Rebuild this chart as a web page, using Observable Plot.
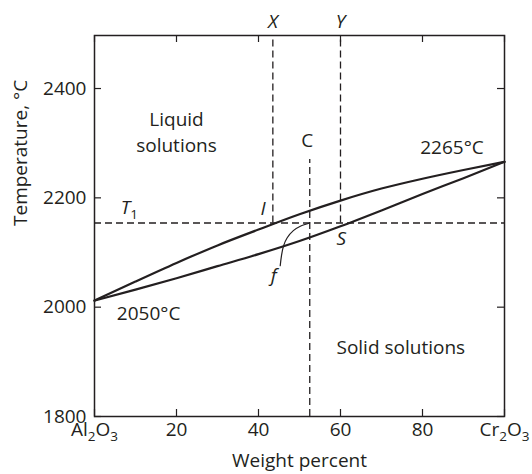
<!DOCTYPE html>
<html><head><meta charset="utf-8">
<script src="https://cdn.jsdelivr.net/npm/d3@7"></script>
<script src="https://cdn.jsdelivr.net/npm/@observablehq/plot@0.6"></script>
<style>body{margin:0;background:#fff;}</style>
</head><body><div id="chart"></div>
<script>
// ---- data ----
const weightPercent = [0, 10, 20, 30, 40, 50, 60, 70, 80, 90, 100];
const liquidusT = [2012, 2047, 2081, 2113, 2142, 2170, 2195, 2217, 2235, 2251, 2266];
const solidusT  = [2012, 2032, 2053, 2075, 2097, 2121, 2148, 2177, 2207, 2236, 2266];
const coolingPathWt = [45.3, 45.6, 46.1, 47.0, 48.5, 50.2, 52.5];
const coolingPathT  = [2076, 2094, 2112, 2127, 2140, 2148, 2154];
const xTickValues = [0, 20, 40, 60, 80, 100];
const xTickLabels = ["Al2O3", "20", "40", "60", "80", "Cr2O3"];
const yTickValues = [1800, 2000, 2200, 2400];
const isothermT1 = 2154;
const compositionLines = [43.5, 60];
const compositionNames = ["X", "Y"];
const compositionC = 52.5;
const compositionCTop = 2270;
const tempDomain = [1800, 2497];
const wtDomain = [0, 100];
const annoText  = ["Liquid", "solutions", "2265°C", "2050°C", "Solid solutions", "C"];
const annoWt    = [20.0, 20.0, 87.2, 13.2, 74.7, 51.9];
const annoT     = [2343, 2295, 2292, 1988, 1926, 2305];
const italicText = ["I", "S", "f", "T1"];
const italicWt   = [41.1, 60.2, 43.7, 8.5];
const italicT    = [2180, 2124, 2058, 2181];

// ---- layout ----
const W = 532, H = 474;
const mL = 94, mR = 28, mT = 35, mB = 58;
const frameW = W - mL - mR, frameH = H - mT - mB;
const tickLen = 7;
const ink = "#231f20";
const dash = "7,4";

const chart = Plot.plot({
  width: W, height: H,
  marginLeft: mL, marginRight: mR, marginTop: mT, marginBottom: mB,
  x: {domain: wtDomain, axis: null},
  y: {domain: tempDomain, axis: null},
  style: {fontFamily: "'Open Sans', sans-serif", fontSize: "19px", color: ink, background: "#fff"},
  marks: [
    // inward ticks
    Plot.tickY(yTickValues, {y: d => d, insetRight: frameW - tickLen, stroke: ink, strokeWidth: 1.2}),
    Plot.tickY(yTickValues, {y: d => d, insetLeft: frameW - tickLen, stroke: ink, strokeWidth: 1.2}),
    Plot.tickX(xTickValues, {x: d => d, insetBottom: frameH - tickLen, stroke: ink, strokeWidth: 1.2}),
    Plot.tickX(xTickValues, {x: d => d, insetTop: frameH - tickLen, stroke: ink, strokeWidth: 1.2}),
    // dashed construction lines
    Plot.ruleY([isothermT1], {y: d => d, stroke: ink, strokeWidth: 1.3, strokeDasharray: dash}),
    Plot.ruleX(compositionLines, {x: d => d, y1: isothermT1, y2: tempDomain[1], stroke: ink, strokeWidth: 1.3, strokeDasharray: dash}),
    Plot.ruleX([compositionC], {x: d => d, y1: tempDomain[0], y2: compositionCTop, stroke: ink, strokeWidth: 1.3, strokeDasharray: dash}),
    // liquidus & solidus
    Plot.line(weightPercent, {x: d => d, y: (d, i) => liquidusT[i], curve: "monotone-x", stroke: ink, strokeWidth: 2.2}),
    Plot.line(weightPercent, {x: d => d, y: (d, i) => solidusT[i], curve: "monotone-x", stroke: ink, strokeWidth: 2.2}),
    // cooling path f
    Plot.line(coolingPathWt, {x: d => d, y: (d, i) => coolingPathT[i], curve: "catmull-rom", stroke: ink, strokeWidth: 1.2}),
    Plot.frame({stroke: ink, strokeWidth: 1.5}),
    // tick labels
    Plot.text(xTickValues, {x: d => d, text: (d, i) => xTickLabels[i], frameAnchor: "bottom", dy: 19, fill: ink}),
    Plot.text(yTickValues, {y: d => d, text: d => String(d), frameAnchor: "left", textAnchor: "end", dx: -8, fill: ink}),
    // axis titles
    Plot.text(["Weight percent"], {frameAnchor: "bottom", dy: 50, fill: ink}),
    Plot.text(["Temperature, °C"], {frameAnchor: "left", rotate: -90, dx: -74, fill: ink}),
    // composition names above the frame
    Plot.text(compositionLines, {x: d => d, text: (d, i) => compositionNames[i], frameAnchor: "top", dy: -21, fontStyle: "italic", fill: ink}),
    // annotations
    Plot.text(annoText, {x: (d, i) => annoWt[i], y: (d, i) => annoT[i], text: d => d, fill: ink}),
    Plot.text(italicText, {x: (d, i) => italicWt[i], y: (d, i) => italicT[i], text: d => d, fontStyle: "italic", fill: ink})
  ]
});

// subscripts for chemical formulas and T1
chart.querySelectorAll("text").forEach(t => {
  const s = t.textContent;
  if (!/^[A-Za-z]+\d/.test(s) || t.querySelector("tspan")) return;
  const parts = s.match(/[A-Za-z]+|\d+/g);
  while (t.firstChild) t.removeChild(t.firstChild);
  let shifted = false;
  parts.forEach(p => {
    const ts = document.createElementNS("http://www.w3.org/2000/svg", "tspan");
    ts.textContent = p;
    if (/^\d+$/.test(p)) {
      ts.setAttribute("font-size", "13.5");
      ts.setAttribute("font-style", "normal");
      ts.setAttribute("dy", "5");
      shifted = true;
    } else if (shifted) {
      ts.setAttribute("dy", "-5");
      shifted = false;
    }
    t.appendChild(ts);
  });
});

document.getElementById("chart").appendChild(chart);
</script>
</body></html>
